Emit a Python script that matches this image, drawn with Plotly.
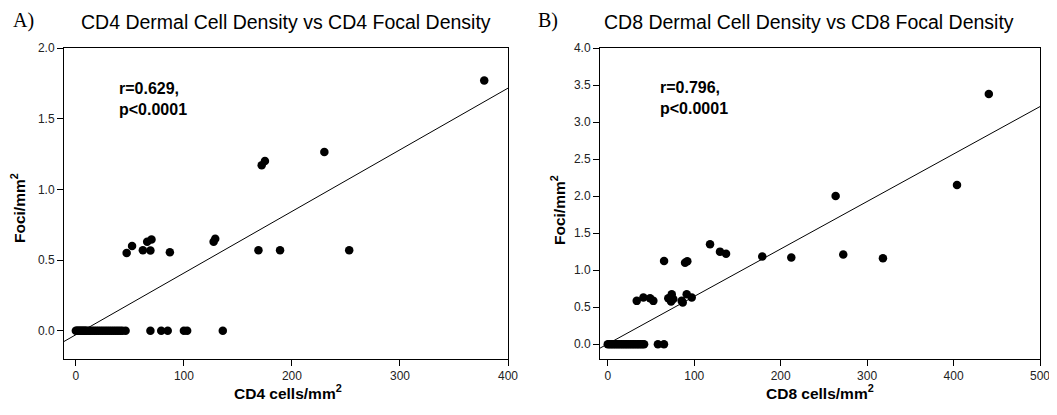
import plotly.graph_objects as go

# ---- Data ----
cd4_zero_x = [0, 1, 2, 3, 4, 5, 6, 7, 8, 9, 10, 12, 13, 15, 17, 19, 21, 23, 25, 27,
              29, 31, 33, 35, 37, 39, 41, 43, 46, 69, 79, 85, 100, 103, 136]
cd4_x = [47, 52, 62, 66, 70, 69, 87, 127.5, 129, 169, 189, 253, 172, 175, 230, 378]
cd4_y = [0.55, 0.60, 0.57, 0.63, 0.645, 0.567, 0.555, 0.63, 0.65, 0.57, 0.57, 0.57,
         1.17, 1.20, 1.265, 1.77]
cd4_fit_slope = 0.00436
cd4_fit_intercept = -0.028
cd4_fit_x = [-11, 400]

cd8_zero_x = [0, 2, 4, 6, 8, 10, 12, 14, 16, 18, 20, 22, 24, 26, 28, 30, 32, 34, 36,
              38, 40, 42, 58, 65]
cd8_x = [33.5, 41.2, 48.9, 52.7, 70, 74, 75.8, 73.2, 85.5, 91.3, 97.1, 86.7,
         65.1, 89.4, 92, 118.3, 129.8, 136.8, 178.7, 212.3, 263.6, 272.4, 318.3, 404, 440.8]
cd8_y = [0.585, 0.63, 0.62, 0.585, 0.62, 0.675, 0.61, 0.577, 0.585, 0.675, 0.63, 0.563,
         1.125, 1.10, 1.12, 1.35, 1.25, 1.22, 1.185, 1.17, 2.0, 1.21, 1.16, 2.15, 3.38]
cd8_fit_slope = 0.00641
cd8_fit_intercept = 0.004
cd8_fit_x = [-9, 500]

# The page body has an 8px default margin, so the figure is drawn 8px in
# from the window's top-left corner; size and place everything accordingly.
OFF = 8
W, H = 1057 - OFF, 415 - OFF


def px(p):
    return (p - OFF) / W


def py(p):
    return 1 - (p - OFF) / H


fig = go.Figure()

marker = dict(color="black", size=8.5, line=dict(width=0))

# Left panel
fig.add_trace(go.Scatter(x=cd4_zero_x + cd4_x, y=[0.0] * len(cd4_zero_x) + cd4_y,
                         mode="markers", marker=marker, xaxis="x", yaxis="y",
                         showlegend=False))
fig.add_trace(go.Scatter(x=cd4_fit_x,
                         y=[cd4_fit_slope * v + cd4_fit_intercept for v in cd4_fit_x],
                         mode="lines", line=dict(color="black", width=1),
                         xaxis="x", yaxis="y", showlegend=False))
# Right panel
fig.add_trace(go.Scatter(x=cd8_zero_x + cd8_x, y=[0.0] * len(cd8_zero_x) + cd8_y,
                         mode="markers", marker=marker, xaxis="x2", yaxis="y2",
                         showlegend=False))
fig.add_trace(go.Scatter(x=cd8_fit_x,
                         y=[cd8_fit_slope * v + cd8_fit_intercept for v in cd8_fit_x],
                         mode="lines", line=dict(color="black", width=1),
                         xaxis="x2", yaxis="y2", showlegend=False))

tickfont = dict(family="Liberation Sans, Arial", size=12, color="#222")


def xaxis(domain, rng, dtick, anchor):
    return dict(domain=domain, range=rng, dtick=dtick, tick0=0, anchor=anchor,
                showline=True, linecolor="black", linewidth=1, mirror=True,
                ticks="outside", ticklen=6, tickcolor="black", showgrid=False,
                zeroline=False, tickfont=tickfont, automargin=False)


def yaxis(domain, rng, dtick, anchor):
    return dict(domain=domain, range=rng, dtick=dtick, tick0=0, anchor=anchor,
                showline=True, linecolor="black", linewidth=1, mirror=True,
                ticks="outside", ticklen=6, tickcolor="black", showgrid=False,
                zeroline=False, tickfont=tickfont, tickformat=".1f", automargin=False)


ydom = [py(359), py(48)]
fig.update_layout(
    width=W, height=H, autosize=False,
    margin=dict(l=0, r=0, t=0, b=0),
    paper_bgcolor="white", plot_bgcolor="white",
    xaxis=xaxis([px(64), px(508)], [-11, 400], 100, "y"),
    yaxis=yaxis(ydom, [-0.2, 2.0], 0.5, "x"),
    xaxis2=xaxis([px(600), px(1040)], [-9, 500], 100, "y2"),
    yaxis2=yaxis(ydom, [-0.2, 4.0], 0.5, "x2"),
)

serif = dict(family="Liberation Serif, Times New Roman", size=20, color="black")
tfont = dict(family="Liberation Sans, Arial", size=19.5, color="black")
afont = dict(family="Liberation Sans, Arial", size=16, color="black", weight="bold")
axfont = dict(family="Liberation Sans, Arial", size=15.5, color="black", weight="bold")

ann = [
    dict(text="A)", x=px(11), y=py(21), xanchor="left", yanchor="middle", font=serif),
    dict(text="CD4 Dermal Cell Density vs CD4 Focal Density", x=px(79), y=py(22),
         xanchor="left", yanchor="middle", font=tfont),
    dict(text="B)", x=px(536), y=py(21), xanchor="left", yanchor="middle", font=serif),
    dict(text="CD8 Dermal Cell Density vs CD8 Focal Density", x=px(602), y=py(22),
         xanchor="left", yanchor="middle", font=tfont),
    dict(text="r=0.629,<br>p&lt;0.0001", x=px(117), y=py(78), xanchor="left",
         yanchor="top", align="left", font=afont),
    dict(text="r=0.796,<br>p&lt;0.0001", x=px(658), y=py(77), xanchor="left",
         yanchor="top", align="left", font=afont),
    dict(text="CD4 cells/mm<sup>2</sup>", x=px(288), y=py(392), xanchor="center",
         yanchor="middle", font=axfont),
    dict(text="CD8 cells/mm<sup>2</sup>", x=px(820), y=py(392), xanchor="center",
         yanchor="middle", font=axfont),
    dict(text="Foci/mm<sup>2</sup>", x=px(18), y=py(208), xanchor="center",
         yanchor="middle", textangle=-90, font=axfont),
    dict(text="Foci/mm<sup>2</sup>", x=px(558), y=py(210), xanchor="center",
         yanchor="middle", textangle=-90, font=axfont),
]
for a in ann:
    a.update(xref="paper", yref="paper", showarrow=False)
fig.update_layout(annotations=ann)

fig.write_html("out.html")
